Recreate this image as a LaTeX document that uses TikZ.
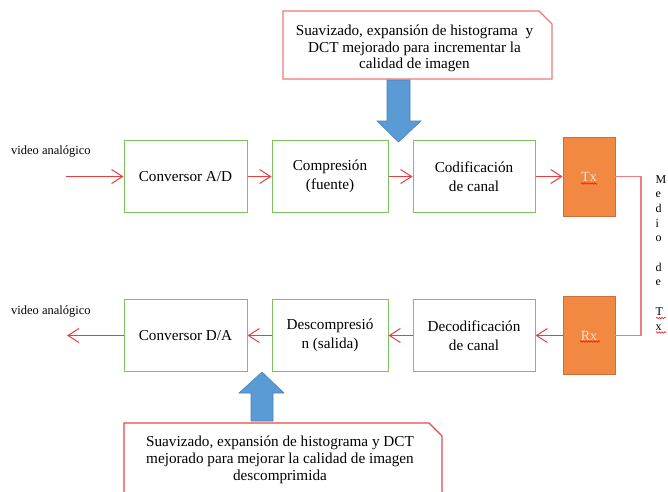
\documentclass[tikz,border=0pt]{standalone}
\usepackage{fontspec}
\setmainfont{Liberation Serif}
\usetikzlibrary{arrows.meta,decorations.pathmorphing,calc}
\definecolor{boxgreen}{RGB}{125,194,90}
\definecolor{linered}{RGB}{232,62,62}
\definecolor{medred}{RGB}{240,125,125}
\definecolor{txorange}{RGB}{241,137,66}
\definecolor{txborder}{RGB}{205,110,55}
\definecolor{txtext}{RGB}{253,226,205}
\definecolor{arrowblue}{RGB}{91,155,213}
\definecolor{arrowblueb}{RGB}{70,130,190}
\definecolor{callredA}{RGB}{240,120,120}
\definecolor{callredB}{RGB}{232,72,72}
\begin{document}
\begin{tikzpicture}[x=1pt,y=-1pt,
  block/.style={draw=boxgreen,line width=1pt,minimum height=72pt,align=center,
    font=\fontsize{15.2}{19}\selectfont,inner sep=0pt},
  radio/.style={draw=txborder,fill=txorange,line width=0.8pt,minimum width=52pt,
    text=txtext,font=\fontsize{14}{16}\selectfont,inner sep=0pt},
  sig/.style={draw=linered,line width=1pt,-{Straight Barb[length=11pt,width=14pt,line width=1pt]}},
  medline/.style={draw=medred,line width=1.6pt},
  wavy/.style={draw=red,line width=0.5pt,decorate,decoration={snake,amplitude=0.8pt,segment length=2.6pt}},
  vlabel/.style={font=\fontsize{12.5}{14}\selectfont,inner sep=0pt,anchor=west},
  calltext/.style={align=center,font=\fontsize{15.2}{16.8}\selectfont,inner sep=0pt},
  bluearrow/.style={fill=arrowblue,draw=arrowblueb,line width=0.6pt}
]
\clip (0,0) rectangle (668,491);
\fill[white] (0,0) rectangle (668,491);

% top row
\node[block,minimum width=123pt] (ad) at (185.5,176.5) {Conversor A/D};
\node[block,minimum width=116pt] (comp) at (330,176.5) {Compresión\\(fuente)};
\node[block,minimum width=122pt] (cod) at (474,176.5) {Codificación\\de canal};
\node[radio,minimum height=79pt] (tx) at (589,176.5) {Tx};

% bottom row
\node[radio,minimum height=78pt] (rx) at (589,335.5) {Rx};
\node[block,minimum width=122pt] (dec) at (474,335.5) {Decodificación\\de canal};
\node[block,minimum width=116pt] (desc) at (330,335.5) {Descompresió\\n (salida)};
\node[block,minimum width=123pt] (da) at (185.5,335.5) {Conversor D/A};

% labels
\node[vlabel] (lin) at (11,151) {video analógico};
\node[vlabel] (lout) at (11,311) {video analógico};
\coordinate (vin) at (66,176.5);
\coordinate (vout) at (67,335.5);

% connectors
\draw[sig] (vin) -- (ad);
\draw[sig] (ad) -- (comp);
\draw[sig] (comp) -- (cod);
\draw[sig] (cod) -- (tx);
\draw[sig] (rx) -- (dec);
\draw[sig] (dec) -- (desc);
\draw[sig] (desc) -- (da);
\draw[sig] (da) -- (vout);

\coordinate (mid) at (641,256);
\draw[medline] (tx.east) -| (mid) |- (rx.east);

% medio de Tx
\node[anchor=north west,align=left,inner sep=0pt,font=\fontsize{12}{14.7}\selectfont] (medio) at (655.5,175)
  {M\\e\\d\\i\\o\\\mbox{}\\d\\e\\\mbox{}\\T\\x};

% spell-check underlines
\draw[wavy] ([xshift=-8pt,yshift=-7pt]tx.center) -- ([xshift=8pt,yshift=-7pt]tx.center);
\draw[wavy] ([xshift=-9pt,yshift=-6pt]rx.center) -- ([xshift=11pt,yshift=-6pt]rx.center);
\draw[wavy] (656,318) -- (666,318);
\draw[wavy] (656,332.5) -- (666,332.5);

% callouts
\draw[draw=callredA,line width=1.3pt] (283,11) -- (539,11) -- (552,24) -- (552,79) -- (283,79) -- cycle;
\node[calltext] (c1) at (414.5,48.5) {Suavizado, expansión de histograma \ y\\DCT mejorado para incrementar la\\calidad de imagen};
\draw[draw=callredB,line width=1.2pt] (124,423) -- (429,423) -- (442,436) -- (442,500) -- (124,500) -- cycle;
\node[calltext] (c2) at (280,460) {Suavizado, expansión de histograma y DCT\\mejorado para mejorar la calidad de imagen\\descomprimida};

% block arrows
\draw[bluearrow] (387,80) -- (410,80) -- (410,121) -- (421,121) -- (398.5,142) -- (377,121) -- (387,121) -- cycle;
\draw[bluearrow] (251,421) -- (273,421) -- (273,393) -- (284,393) -- (262,372) -- (239,393) -- (251,393) -- cycle;
\end{tikzpicture}
\end{document}
